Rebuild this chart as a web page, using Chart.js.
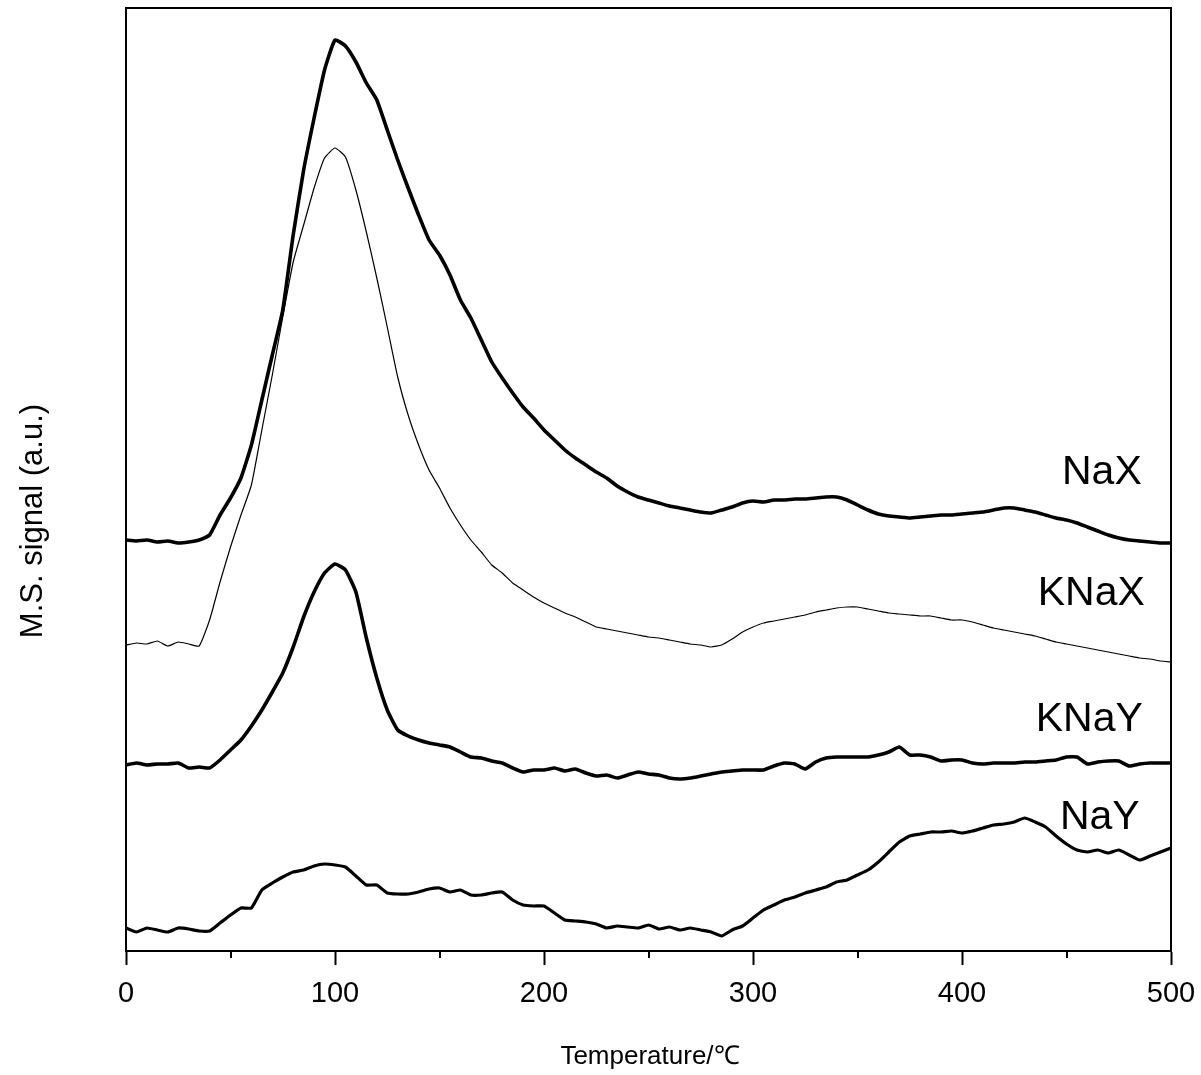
<!DOCTYPE html>
<html>
<head>
<meta charset="utf-8">
<script src="https://cdn.jsdelivr.net/npm/chart.js@4.4.1/dist/chart.umd.min.js"></script>
<style>
  html, body { margin: 0; padding: 0; background: #fff; }
  #wrap { width: 1201px; height: 1075px; }
</style>
</head>
<body>
<div id="wrap"><canvas id="c" width="1201" height="1075"></canvas></div>
<script>
// Temperature grid (°C)
const temperatures = [0,5,10,15,20,25,30,35,40,45,50,55,60,65,70,75,80,85,90,95,100,105,110,115,120,125,130,135,140,145,150,155,160,165,170,175,180,185,190,195,200,205,210,215,220,225,230,235,240,245,250,255,260,265,270,275,280,285,290,295,300,305,310,315,320,325,330,335,340,345,350,355,360,365,370,375,380,385,390,395,400,405,410,415,420,425,430,435,440,445,450,455,460,465,470,475,480,485,490,495,500];

// M.S. signal (a.u., stacked curves)
const naX = [411,410,411,409,410,408,409,411,416,436,453,473,506,551,596,641,716,781,833,881,911,905,889,868,851,821,791,763,736,711,696,676,651,633,611,589,573,558,544,533,521,511,501,493,486,479,473,465,459,454,451,448,445,443,441,439,438,441,444,448,450,449,451,451,452,452,453,454,454,451,446,441,437,435,434,433,434,435,436,436,437,438,439,441,443,443,441,439,436,433,431,428,424,420,416,413,411,410,409,408,408];
const kNaX = [306,308,307,310,305,309,307,305,331,369,404,436,466,521,576,634,689,726,763,793,803,794,761,719,673,624,574,536,506,481,463,443,426,411,399,386,378,368,361,354,348,343,338,334,329,324,322,320,318,316,314,313,311,309,307,306,304,306,312,319,324,328,330,332,334,336,339,341,343,344,344,342,340,338,337,336,335,335,333,331,331,329,326,323,321,319,317,315,312,309,307,305,303,301,299,297,295,293,292,290,289];
const kNaY = [186,188,186,187,187,188,183,184,183,191,201,211,225,241,259,278,304,334,359,378,387,381,359,313,273,241,221,215,211,208,206,204,199,194,193,190,188,183,179,181,181,183,180,182,178,175,176,173,176,179,177,176,173,172,173,175,177,179,180,181,181,181,185,188,187,182,189,193,194,194,194,194,196,199,204,196,196,194,190,191,191,188,187,188,188,188,189,189,190,191,194,194,187,189,190,190,185,187,188,188,188];
const naY = [23,19,23,21,19,23,22,20,20,28,36,43,43,61,68,74,79,81,85,87,86,84,75,66,66,58,57,57,59,62,63,59,61,56,56,58,59,51,46,45,45,38,31,30,29,27,23,25,24,23,26,22,24,21,23,21,19,15,21,25,33,41,46,51,54,58,61,64,69,71,76,81,89,99,109,115,117,119,119,120,118,120,123,126,127,129,133,129,124,115,107,101,99,101,98,101,96,91,95,99,103];

// Curve labels (name, anchor temperature at right edge of text, signal level)
const labelNames = ["NaX", "KNaX", "KNaY", "NaY"];
const labelX = [486, 487.5, 486.5, 485];
const labelY = [478, 357, 231, 133];

// Axis tick labels
const majorTicks = [0, 100, 200, 300, 400, 500];
const minorTicks = [50, 150, 250, 350, 450];

const FONT = "'Liberation Sans', Arial, Helvetica, sans-serif";

function toPoints(ys) { return temperatures.map((t, i) => ({ x: t, y: ys[i] })); }

const framePlugin = {
  id: 'frame',
  afterDraw(chart) {
    const { ctx, chartArea: a, scales } = chart;
    const xs = scales.x;
    ctx.save();
    ctx.strokeStyle = '#000';
    ctx.lineWidth = 2;
    ctx.beginPath();
    ctx.moveTo(a.left, a.bottom); ctx.lineTo(a.left, a.top);
    ctx.lineTo(a.right, a.top); ctx.lineTo(a.right, a.bottom);
    ctx.stroke();
    // minor ticks
    ctx.beginPath();
    minorTicks.forEach(v => {
      const px = Math.round(xs.getPixelForValue(v));
      ctx.moveTo(px, a.bottom); ctx.lineTo(px, a.bottom + 7);
    });
    ctx.stroke();
    // curve labels
    ctx.fillStyle = '#000';
    ctx.font = '41px ' + FONT;
    ctx.textAlign = 'right';
    ctx.textBaseline = 'middle';
    labelNames.forEach((n, i) => {
      ctx.fillText(n, xs.getPixelForValue(labelX[i]), scales.y.getPixelForValue(labelY[i]));
    });
    // axis titles
    ctx.font = '26px ' + FONT;
    ctx.textAlign = 'center';
    ctx.textBaseline = 'middle';
    ctx.fillText('Temperature/\u2103', 650, 1057);
    ctx.save();
    ctx.translate(33, 521);
    ctx.rotate(-Math.PI / 2);
    ctx.font = '31px ' + FONT;
    ctx.fillText('M.S. signal (a.u.)', 0, 0);
    ctx.restore();
    ctx.restore();
  }
};

const ds = (label, data, w) => ({
  label, data: toPoints(data), borderColor: '#000', backgroundColor: '#000',
  borderWidth: w, pointRadius: 0, tension: 0.15, fill: false,
  borderJoinStyle: 'round', borderCapStyle: 'round'
});

new Chart(document.getElementById('c'), {
  type: 'line',
  data: {
    datasets: [
      ds('NaX', naX, 3.6),
      ds('KNaX', kNaX, 1.2),
      ds('KNaY', kNaY, 3.6),
      ds('NaY', naY, 3.2)
    ]
  },
  options: {
    responsive: false,
    animation: false,
    devicePixelRatio: 1,
    layout: { padding: { left: 126, right: 30, top: 8, bottom: 0 } },
    plugins: { legend: { display: false }, tooltip: { enabled: false } },
    scales: {
      x: {
        type: 'linear', min: 0, max: 500,
        afterFit(scale) { scale.height = 124; scale.paddingLeft = 0; scale.paddingRight = 0; },
        afterBuildTicks(scale) { scale.ticks = majorTicks.map(v => ({ value: v })); },
        ticks: { color: '#000', font: { family: FONT, size: 29 }, padding: 12, maxRotation: 0 },
        grid: { drawOnChartArea: false, drawTicks: true, tickLength: 14, tickWidth: 2, tickColor: '#000' },
        border: { display: true, color: '#000', width: 2 }
      },
      y: { type: 'linear', min: 0, max: 943, display: false }
    }
  },
  plugins: [framePlugin]
});
</script>
</body>
</html>
